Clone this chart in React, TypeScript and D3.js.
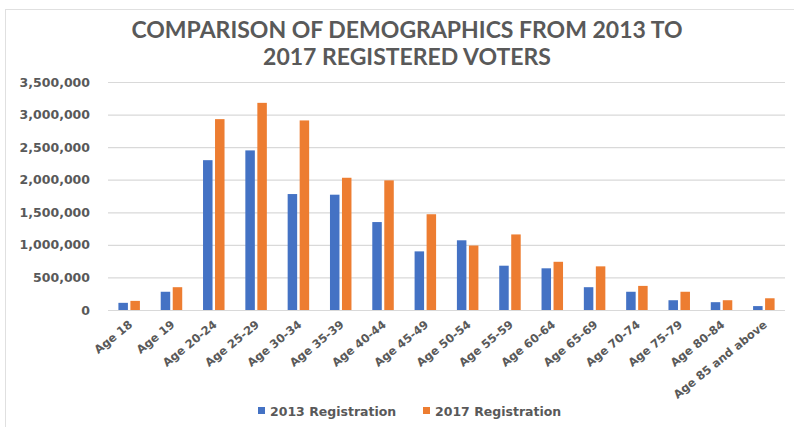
import React, { useRef, useEffect } from 'react'
import * as d3 from 'd3'

const categories = [
  'Age 18', 'Age 19', 'Age 20-24', 'Age 25-29', 'Age 30-34', 'Age 35-39', 'Age 40-44', 'Age 45-49',
  'Age 50-54', 'Age 55-59', 'Age 60-64', 'Age 65-69', 'Age 70-74', 'Age 75-79', 'Age 80-84', 'Age 85 and above',
]
const reg2013 = [
  110000, 280000, 2300000, 2450000, 1780000, 1770000, 1350000, 900000,
  1070000, 680000, 640000, 350000, 280000, 150000, 120000, 60000,
]
const reg2017 = [
  140000, 350000, 2930000, 3180000, 2910000, 2030000, 1990000, 1470000,
  990000, 1160000, 740000, 670000, 370000, 280000, 150000, 180000,
]
const seriesNames = ['2013 Registration', '2017 Registration']
const colors = ['#4472C4', '#ED7D31']
const yTicks = [0, 500000, 1000000, 1500000, 2000000, 2500000, 3000000, 3500000]

export default function App() {
  const svgRef = useRef<SVGSVGElement>(null)

  useEffect(() => {
    const width = 794
    const height = 427
    const margin = { top: 82, right: 9, bottom: 117, left: 108 }
    const titleFont = 'Lato, "Open Sans", sans-serif'
    const font = '"DejaVu Sans", sans-serif'
    const textColor = '#595959'

    const svg = d3.select(svgRef.current)
    svg.selectAll('*').remove()
    svg.attr('width', width).attr('height', height)

    svg.append('rect')
      .attr('width', width).attr('height', height).attr('fill', '#fff')

    // chart frame
    svg.append('rect')
      .attr('x', 5.5).attr('y', 9.5)
      .attr('width', width + 10).attr('height', height + 10)
      .attr('fill', 'none').attr('stroke', '#e0e0e0')

    const x = d3.scaleBand().domain(categories)
      .range([margin.left, width - margin.right]).paddingInner(0).paddingOuter(0)
    const y = d3.scaleLinear().domain([0, 3500000])
      .range([height - margin.bottom, margin.top])

    // title
    const title = svg.append('text')
      .attr('text-anchor', 'middle')
      .attr('font-family', titleFont).attr('font-weight', 700)
      .attr('font-size', 23).attr('fill', textColor)
    title.append('tspan').attr('x', 407).attr('y', 38).text('COMPARISON OF DEMOGRAPHICS FROM 2013 TO')
    title.append('tspan').attr('x', 407).attr('y', 65).text('2017 REGISTERED VOTERS')

    // gridlines + y labels
    const yAxis = svg.append('g')
      .attr('transform', `translate(${margin.left},0)`)
      .call(d3.axisLeft(y).tickValues(yTicks).tickSize(-(width - margin.left - margin.right))
        .tickPadding(18).tickFormat(d3.format(',')))
    yAxis.select('.domain').remove()
    yAxis.selectAll('line').attr('stroke', '#d9d9d9').attr('stroke-width', 1.2)
    yAxis.selectAll('text')
      .attr('font-family', font).attr('font-size', 12.5).attr('font-weight', 700)
      .attr('fill', textColor)

    // bars
    const bw = 9.5
    const gap = 2.5
    ;[reg2013, reg2017].forEach((vals, s) => {
      svg.append('g').selectAll('rect')
        .data(vals)
        .join('rect')
        .attr('x', (_, i) => x(categories[i])! + x.bandwidth() / 2 + (s === 0 ? -bw - gap / 2 : gap / 2))
        .attr('y', d => y(d))
        .attr('width', bw)
        .attr('height', d => y(0) - y(d))
        .attr('fill', colors[s])
    })

    // x labels
    svg.append('g').selectAll('text')
      .data(categories)
      .join('text')
      .attr('transform', d => `translate(${x(d)! + x.bandwidth() / 2 + 4},${y(0) + 16}) rotate(-39)`)
      .attr('text-anchor', 'end')
      .attr('font-family', font).attr('font-size', 11.5).attr('font-weight', 700)
      .attr('fill', textColor)
      .text(d => d)

    // legend
    const legendX = [258, 423]
    seriesNames.forEach((name, i) => {
      svg.append('rect')
        .attr('x', legendX[i]).attr('y', 407)
        .attr('width', 7).attr('height', 7)
        .attr('fill', colors[i])
      svg.append('text')
        .attr('x', legendX[i] + 12).attr('y', 416)
        .attr('font-family', font).attr('font-size', 12.5).attr('font-weight', 700)
        .attr('fill', textColor)
        .text(name)
    })
  }, [])

  return (
    <svg ref={svgRef} style={{ position: 'absolute', left: 0, top: 0, display: 'block' }} />
  )
}
